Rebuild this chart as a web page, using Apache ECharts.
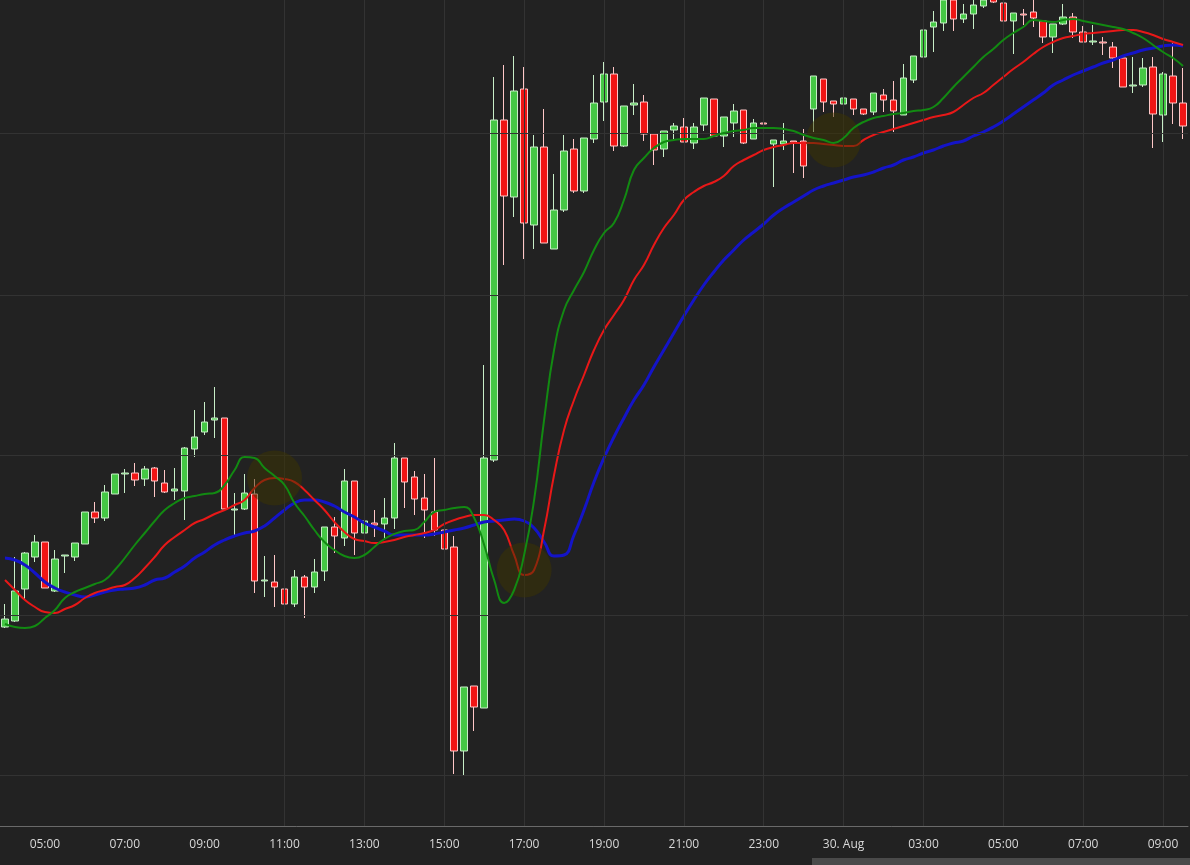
<!DOCTYPE html>
<html>
<head>
<meta charset="utf-8">
<script src="https://cdn.jsdelivr.net/npm/echarts@6/dist/echarts.min.js"></script>
<style>
  html, body { margin: 0; padding: 0; background: #222222; }
  #chart { width: 1190px; height: 865px; }
</style>
</head>
<body>
<div id="chart"></div>
<script>
// 15 minute candles starting 04:00, [open, close, low, high]
const candles = [
  [373,381,372,396],[379,409,378,443],[411,447,400,448],[443,458,438,465],[458,412,412,458],
  [409,441,408,450],[444,445,427,445],[443,457,439,457],[456,488,456,488],[488,482,477,498],
  [482,508,479,515],[506,526,506,526],[526,527,507,531],[527,520,514,537],[521,531,514,534],
  [532,519,503,533],[517,508,507,530],[509,511,500,532],[509,552,480,553],[551,563,543,590],
  [568,578,565,598],[580,582,562,613],[582,491,490,582],[490,491,463,507],[491,507,490,526],
  [506,419,407,521],[419,420,403,444],[418,413,393,445],[411,396,390,428],[396,423,393,430],
  [423,413,382,425],[413,428,407,441],[429,473,419,473],[473,464,447,483],[462,519,454,531],
  [519,467,445,519],[467,479,452,487],[477,475,463,490],[476,482,462,502],[482,542,471,557],
  [542,518,492,542],[523,501,485,529],[502,490,462,526],[488,470,464,542],[470,451,425,470],
  [453,249,226,464],[249,313,225,313],[314,293,269,314],[292,542,292,635],[540,880,538,923],
  [880,804,735,935],[803,909,783,944],[911,777,741,933],[775,853,751,865],[853,757,757,891],
  [751,790,751,826],[790,849,788,865],[851,809,807,861],[809,862,807,862],[861,897,857,925],
  [898,926,879,938],[926,854,849,933],[854,894,853,894],[895,897,885,916],[898,866,859,905],
  [866,850,835,866],[851,869,843,869],[870,874,861,877],[873,858,858,882],[857,873,851,877],
  [875,902,869,902],[901,864,864,901],[864,883,853,883],[877,889,863,896],[890,857,856,890],
  [861,877,861,881],[877,876,843,883],[856,860,813,860],[856,859,850,877],[859,858,827,859],
  [859,834,822,871],[891,924,868,924],[921,898,888,921],[899,896,883,899],[896,902,896,907],
  [901,891,885,901],[891,886,885,891],[888,907,885,907],[905,900,888,911],[900,889,868,919],
  [885,922,885,936],[920,944,917,944],[943,970,941,977],[973,978,948,989],[977,1000,969,1004],
  [1000,981,969,1003],[981,986,977,996],[986,995,971,1002],[994,1000,992,1005],[1002,998,997,1005],
  [997,979,979,1000],[979,987,946,987],[986,985,975,991],[988,982,973,1000],[979,963,957,980],
  [963,976,947,976],[976,983,975,996],[983,968,962,987],[968,958,958,974],[958,959,955,975],
  [958,957,945,963],[953,942,932,958],[942,913,913,942],[914,915,907,943],[915,932,913,942],
  [933,886,852,943],[885,926,858,928],[924,897,876,957],[897,874,861,932]
];

const fastLine = [
  376,373,372,374,382,390,402,408,412,416,
  420,430,442,455,467,479,490,497,502,504,
  506,507,515,530,543,542,532,524,515,497,
  484,470,458,450,444,442,445,453,461,466,
  469,470,478,488,490,492,493,482,455,420,
  397,410,445,500,580,650,690,710,728,750,
  767,777,800,830,842,852,858,860,861,861,
  861,864,867,869,870,872,872,872,871,869,
  865,862,860,857,862,872,878,882,884,886,
  887,889,890,893,902,913,923,933,943,951,
  960,967,973,980,979,978,980,981,979,977,
  975,973,971,967,962,955,948,942,934
];

const midLine = [
  420,410,400,393,388,387,391,395,402,407,
  410,413,415,422,432,443,455,463,470,477,
  481,486,490,495,500,512,520,522,521,518,
  510,500,490,478,468,461,459,457,458,460,
  463,465,467,470,476,480,483,485,485,480,
  470,445,425,430,470,525,570,600,625,650,
  670,685,700,720,735,755,772,785,800,808,
  814,818,824,834,840,845,850,853,855,857,
  857,857,856,855,854,854,860,865,868,871,
  874,877,880,883,885,888,895,902,907,915,
  923,931,938,946,953,958,962,964,966,967,
  968,969,970,970,968,965,961,958,955
];

const slowLine = [
  442,440,435,427,418,412,408,405,403,405,
  408,410,411,412,415,420,422,428,434,442,
  448,455,460,464,467,469,474,482,490,497,
  500,500,498,494,488,483,477,473,469,465,
  465,465,465,466,468,470,472,475,478,479,
  480,481,479,472,458,444,445,465,490,518,
  542,563,582,600,615,633,650,667,684,700,
  715,728,740,750,760,768,776,785,792,798,
  804,810,814,817,820,823,825,828,832,835,
  840,843,847,850,854,857,859,864,868,873,
  879,886,893,900,907,915,920,925,929,933,
  937,940,944,947,950,952,954,955,954
];

const gridPrices = [225, 385, 545, 705, 867];

const tickLabels = {
  '05:00': '05:00', '07:00': '07:00', '09:00': '09:00', '11:00': '11:00',
  '13:00': '13:00', '15:00': '15:00', '17:00': '17:00', '19:00': '19:00',
  '21:00': '21:00', '23:00': '23:00', '01:00': '30. Aug', '03:00': '03:00'
};

// crossover highlights: [candle index, price]
const highlights = [[27, 522], [52, 430], [83, 860]];

const times = [];
for (let i = 0; i < candles.length; i++) {
  const m = 4 * 60 + i * 15;
  const h = Math.floor(m / 60) % 24;
  const mm = m % 60;
  times.push(String(h).padStart(2, '0') + ':' + String(mm).padStart(2, '0'));
}

const isTick = (idx) => tickLabels[times[idx]] !== undefined;
const gridLineStyle = { color: '#333333', type: 'solid', width: 1 };

const chart = echarts.init(document.getElementById('chart'), null, { renderer: 'canvas' });

chart.setOption({
  animation: false,
  backgroundColor: '#222222',
  grid: { left: -2, right: 2, top: 0, bottom: 39 },
  xAxis: {
    type: 'category',
    data: times,
    boundaryGap: true,
    axisLine: { lineStyle: { color: '#6a6a6a' } },
    axisTick: { show: false },
    axisLabel: {
      interval: (idx) => isTick(idx),
      formatter: (v) => tickLabels[v],
      color: '#d8d8d8',
      fontSize: 12,
      fontFamily: 'Open Sans, Arial, sans-serif',
      margin: 13
    },
    splitLine: { show: false }
  },
  yAxis: {
    type: 'value',
    min: 174,
    max: 1000,
    show: false,
    splitLine: { show: false }
  },
  graphic: [{
    type: 'rect',
    shape: { x: 812, y: 858, width: 378, height: 7 },
    style: { fill: '#4a4a4a' }
  }],
  series: [
    {
      type: 'candlestick',
      data: candles,
      barWidth: 7,
      itemStyle: {
        color: '#45c845',
        color0: '#f01515',
        borderColor: '#c8eec8',
        borderColor0: '#ffc8c8',
        borderWidth: 1
      },
      markLine: {
        silent: true,
        symbol: 'none',
        label: { show: false },
        lineStyle: gridLineStyle,
        data: gridPrices.map((p) => ({ yAxis: p }))
          .concat(times.filter((t) => tickLabels[t] !== undefined).map((t) => ({ xAxis: t })))
      },
      markPoint: {
        silent: true,
        symbol: 'circle',
        symbolSize: 55,
        label: { show: false },
        itemStyle: { color: 'rgba(60,52,0,0.5)' },
        data: highlights.map((h) => ({ coord: h }))
      },
      z: 2
    },
    {
      type: 'line', data: slowLine, symbol: 'none', smooth: true,
      lineStyle: { color: '#1414c8', width: 3 }, z: 3
    },
    {
      type: 'line', data: midLine, symbol: 'none', smooth: true,
      lineStyle: { color: '#e81818', width: 2 }, z: 4
    },
    {
      type: 'line', data: fastLine, symbol: 'none', smooth: true,
      lineStyle: { color: '#128a12', width: 2 }, z: 5
    }
  ]
});
</script>
</body>
</html>
